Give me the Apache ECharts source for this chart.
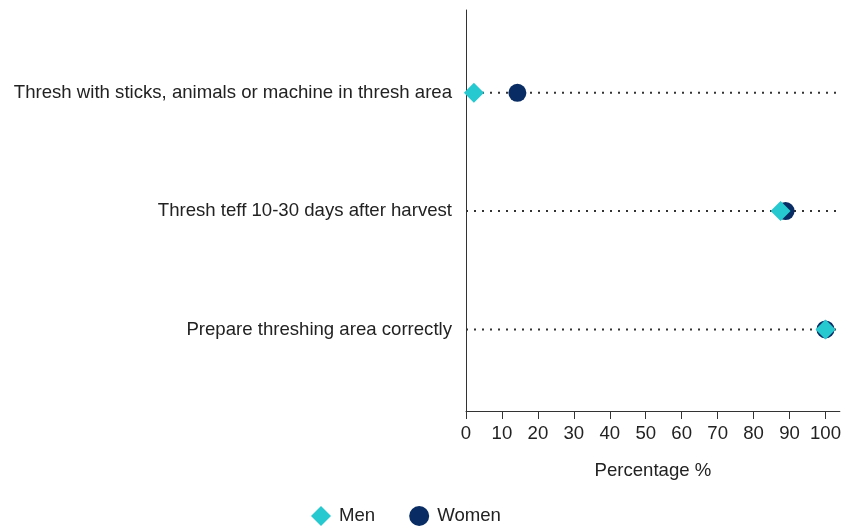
<!DOCTYPE html>
<html>
<head>
<meta charset="utf-8">
<script src="https://cdn.jsdelivr.net/npm/echarts@6/dist/echarts.min.js"></script>
<style>
  html, body { margin: 0; padding: 0; background: #fff; overflow: hidden; }
  #chart { width: 844px; height: 527px; }
</style>
</head>
<body>
<div id="chart"></div>
<script>
// Practices, listed top to bottom
const practices = [
  'Thresh with sticks, animals or machine in thresh area',
  'Thresh teff 10-30 days after harvest',
  'Prepare threshing area correctly'
];
// Share of respondents applying each practice (%)
const menValues = [2.2, 87.5, 100];
const womenValues = [14.3, 88.9, 100];
const xTicks = [0, 10, 20, 30, 40, 50, 60, 70, 80, 90, 100];
const xMax = 104;

const MEN = '#26c9cf';
const WOMEN = '#082c63';
const FS = 18.6;

const guideSeries = practices.map((p, i) => ({
  type: 'line',
  silent: true,
  symbol: 'none',
  data: [[0, i], [xMax, i]],
  lineStyle: { color: '#333', width: 2, type: [2, 6] },
  z: 1
}));

const chart = echarts.init(document.getElementById('chart'));
chart.setOption({
  animation: false,
  textStyle: { fontFamily: 'Liberation Sans, Arial, sans-serif' },
  grid: { left: 466, width: 378, top: 10, bottom: 116 },
  xAxis: {
    type: 'value',
    min: 0,
    max: xMax,
    interval: 10,
    name: 'Percentage %',
    nameLocation: 'middle',
    nameGap: 50,
    nameTextStyle: { fontSize: FS, color: '#222' },
    axisLine: { show: true, onZero: false, lineStyle: { color: '#333', width: 1 } },
    axisTick: { show: true, length: 8, customValues: xTicks, lineStyle: { color: '#333' } },
    axisLabel: {
      fontSize: FS, color: '#222', margin: 13,
      customValues: xTicks,
      formatter: v => String(v)
    },
    splitLine: { show: false }
  },
  yAxis: {
    type: 'value',
    inverse: true,
    min: -0.7,
    max: 2.69,
    axisLine: { show: true, onZero: false, lineStyle: { color: '#333', width: 1 } },
    axisTick: { show: false },
    splitLine: { show: false },
    axisLabel: {
      customValues: [0, 1, 2],
      fontSize: FS, color: '#222', margin: 14,
      formatter: v => practices[Math.round(v)] || ''
    }
  },
  legend: {
    top: 501,
    left: 306,
    itemGap: 34,
    itemWidth: 20,
    itemHeight: 20,
    textStyle: { fontSize: FS, color: '#222', padding: [0, 0, 0, 3] },
    data: [
      { name: 'Men', icon: 'diamond' },
      { name: 'Women', icon: 'circle' }
    ]
  },
  series: guideSeries.concat([
    {
      name: 'Women',
      type: 'scatter',
      symbol: 'circle',
      symbolSize: 18,
      itemStyle: { color: WOMEN, opacity: 1 },
      data: womenValues.map((v, i) => [v, i]),
      z: 3
    },
    {
      name: 'Men',
      type: 'scatter',
      symbol: 'diamond',
      symbolSize: 20,
      itemStyle: { color: MEN, opacity: 1 },
      data: menValues.map((v, i) => [v, i]),
      z: 4
    }
  ])
});
</script>
</body>
</html>
